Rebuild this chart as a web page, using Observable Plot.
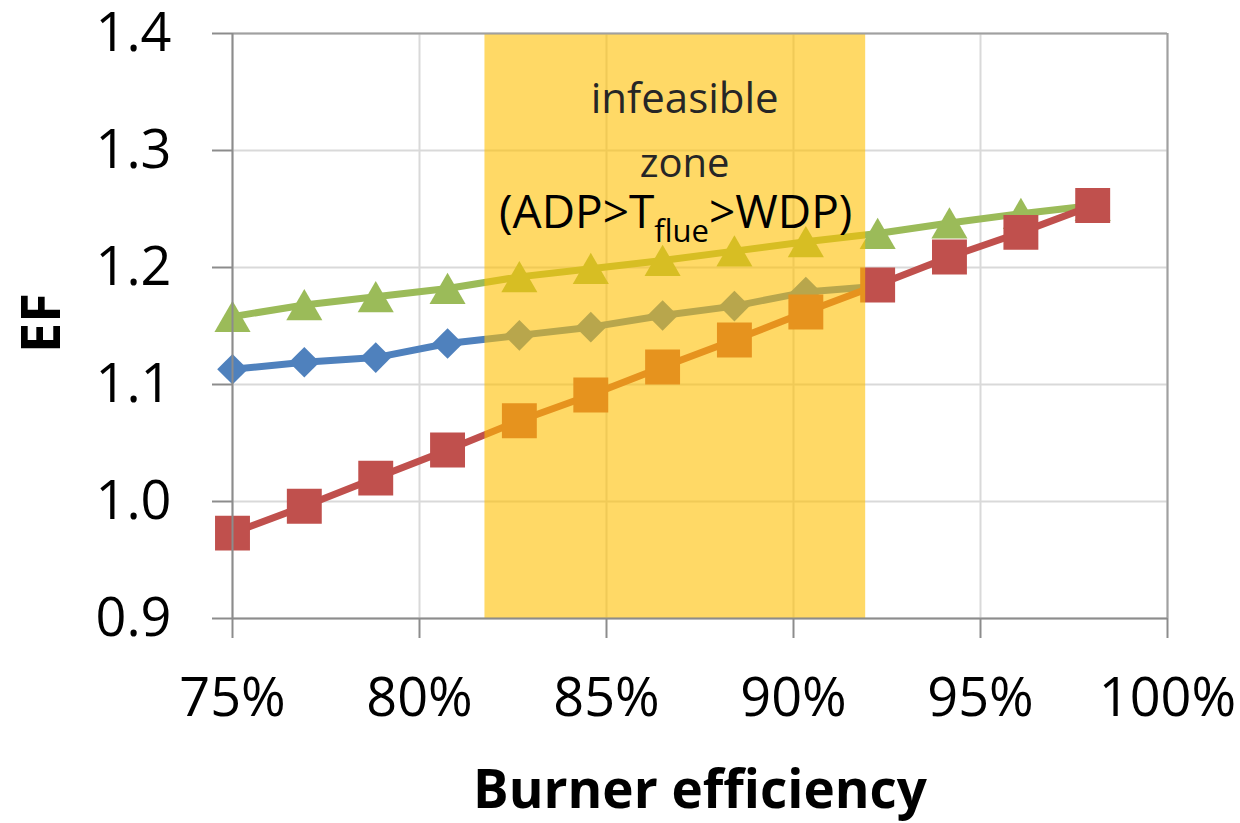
<!DOCTYPE html>
<html>
<head>
<meta charset="utf-8">
<script src="https://cdn.jsdelivr.net/npm/d3@7"></script>
<script src="https://cdn.jsdelivr.net/npm/@observablehq/plot@0.6"></script>
<style>
  html, body { margin: 0; padding: 0; background: #ffffff; }
  #chart { width: 1240px; height: 823px; }
</style>
</head>
<body>
<div id="chart"></div>
<script>
// Burner efficiency (x values of the three series)
const efficiency = [0.75, 0.7692, 0.7883, 0.8075, 0.8267, 0.8458, 0.865, 0.8842, 0.9033, 0.9225, 0.9417, 0.9608, 0.98];
// EF values
const efSquares  = [0.973, 0.996, 1.020, 1.044, 1.069, 1.091, 1.115, 1.138, 1.162, 1.185, 1.209, 1.230, 1.253];
const efDiamonds = [1.113, 1.119, 1.123, 1.135, 1.142, 1.149, 1.159, 1.167, 1.179, 1.184];
const efTriangles = [1.158, 1.168, 1.175, 1.182, 1.192, 1.199, 1.206, 1.214, 1.222, 1.229, 1.238, 1.246, 1.253];
// infeasible zone bounds (burner efficiency)
const zoneBounds = [0.8175, 0.9193];
// tick values
const xTicks = [0.75, 0.80, 0.85, 0.90, 0.95, 1.00];
const yTicks = [0.9, 1.0, 1.1, 1.2, 1.3, 1.4];
// annotation
const zoneLines = ["infeasible", "zone"];
const zoneCondition = "(ADP>Tflue>WDP)";

const toRows = (vals) => vals.map((v, i) => ({x: efficiency[i], y: v}));
const squares = toRows(efSquares);
const diamonds = toRows(efDiamonds);
const triangles = toRows(efTriangles);

const RED = "#C0504D", BLUE = "#4F81BD", GREEN = "#9BBB59";
const GRID = "#d9d9d9", AXIS = "#8c8c8c";

const plot = Plot.plot({
  width: 1240,
  height: 823,
  marginLeft: 232,
  marginRight: 73,
  marginTop: 33,
  marginBottom: 205,
  style: {fontFamily: "'Open Sans', sans-serif", background: "#ffffff", color: "#000", overflow: "visible"},
  x: {domain: [0.75, 1.0]},
  y: {domain: [0.9, 1.4]},
  marks: [
    Plot.gridX(xTicks, {stroke: GRID, strokeOpacity: 1, strokeWidth: 2}),
    Plot.gridY(yTicks, {stroke: GRID, strokeOpacity: 1, strokeWidth: 2}),
    // series
    Plot.line(diamonds, {x: "x", y: "y", stroke: BLUE, strokeWidth: 7}),
    Plot.dot(diamonds, {x: "x", y: "y", symbol: "diamond2", r: 13.8, fill: BLUE, stroke: "none"}),
    Plot.line(triangles, {x: "x", y: "y", stroke: GREEN, strokeWidth: 7}),
    Plot.dot(triangles, {x: "x", y: "y", symbol: "triangle", r: 13.4, dy: 5, fill: GREEN, stroke: "none"}),
    Plot.line(squares, {x: "x", y: "y", stroke: RED, strokeWidth: 7}),
    Plot.dot(squares, {x: "x", y: "y", symbol: "square", r: 19.7, fill: RED, stroke: "none"}),
    // infeasible zone overlay
    Plot.rect([zoneBounds], {x1: d => d[0], x2: d => d[1], y1: 0.9, y2: 1.4, fill: "#FFC000", fillOpacity: 0.6}),
    // frame / axis lines
    Plot.ruleY([1.4], {stroke: "#a0a0a0", strokeWidth: 2}),
    Plot.ruleX([1.0], {stroke: "#a0a0a0", strokeWidth: 2}),
    Plot.ruleX([0.75], {stroke: AXIS, strokeWidth: 2}),
    Plot.ruleY([0.9], {stroke: AXIS, strokeWidth: 2}),
    // annotation
    Plot.text([zoneLines[0]], {x: 0.8709, y: 1.3436, text: d => d, fontSize: 42, fill: "#262626"}),
    Plot.text([zoneLines[1]], {x: 0.8709, y: 1.288, text: d => d, fontSize: 40, fill: "#262626"}),
    Plot.text([zoneCondition], {x: 0.8685, y: 1.2462, text: d => d, fontSize: 46, fill: "#000", className: "zone-cond"}),
    // axes
    Plot.axisX(xTicks, {tickSize: 20, tickPadding: 39, tickFormat: d3.format(".0%"), fontSize: 54, stroke: AXIS, strokeWidth: 2, fill: "#000", label: null}),
    Plot.axisY(yTicks, {tickSize: 20, tickPadding: 41, tickFormat: d3.format(".1f"), fontSize: 54, stroke: AXIS, strokeWidth: 2, fill: "#000", label: null}),
    // axis titles
    Plot.text(["Burner efficiency"], {frameAnchor: "bottom", dy: 173, textAnchor: "middle", lineAnchor: "middle", text: d => d, fontSize: 53, fontWeight: "bold", fill: "#000"}),
    Plot.text(["EF"], {frameAnchor: "left", dx: -190, dy: -3, rotate: -90, textAnchor: "middle", lineAnchor: "middle", text: d => d, fontSize: 54, fontWeight: "bold", fill: "#000"})
  ]
});

// subscript "flue" in the zone condition label
const condText = plot.querySelector(".zone-cond text");
if (condText) {
  const ns = "http://www.w3.org/2000/svg";
  condText.textContent = "";
  const a = document.createElementNS(ns, "tspan");
  a.textContent = "(ADP>T";
  const b = document.createElementNS(ns, "tspan");
  b.textContent = "flue";
  b.setAttribute("font-size", "31");
  b.setAttribute("dy", "14");
  const c = document.createElementNS(ns, "tspan");
  c.textContent = ">WDP)";
  c.setAttribute("dy", "-14");
  condText.append(a, b, c);
}

document.getElementById("chart").append(plot);
</script>
</body>
</html>
